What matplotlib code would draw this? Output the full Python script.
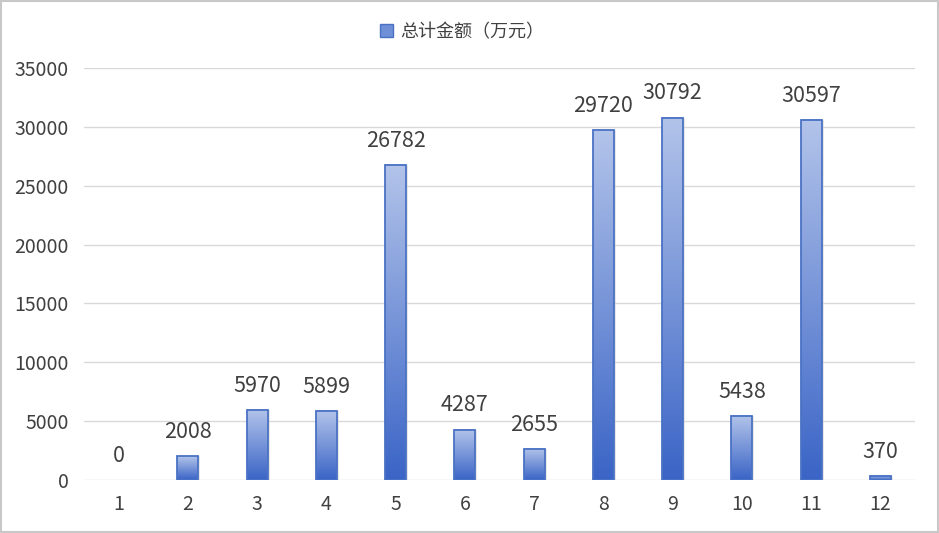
import numpy as np
import matplotlib
matplotlib.use("Agg")
import matplotlib.pyplot as plt
from matplotlib.patches import Rectangle
from matplotlib.colors import LinearSegmentedColormap

plt.rcParams['font.family'] = ['Noto Sans CJK SC', 'DejaVu Sans']

months = ['1', '2', '3', '4', '5', '6', '7', '8', '9', '10', '11', '12']
totals = [0, 2008, 5970, 5899, 26782, 4287, 2655, 29720, 30792, 5438, 30597, 370]
series_name = '总计金额（万元）'

fig = plt.figure(figsize=(9.39, 5.33), dpi=100)
ax = fig.add_axes([84 / 939, 1 - 480 / 533, (915 - 84) / 939, (480 - 68) / 533])

cmap = LinearSegmentedColormap.from_list('bar', ['#3a64c6', '#b3c4ea'])
grad = np.linspace(0, 1, 256).reshape(-1, 1)
w = 0.3
x = np.arange(len(months))
for xi, v in zip(x, totals):
    if v > 0:
        # faint shadow
        ax.add_patch(Rectangle((xi - w / 2 + 0.03, 0), w, v, fc='#d0d0d0', ec='none',
                               alpha=0.5, zorder=1.5))
        ax.imshow(grad, cmap=cmap, aspect='auto', origin='lower',
                  extent=(xi - w / 2, xi + w / 2, 0, v), zorder=2)
        ax.add_patch(Rectangle((xi - w / 2, 0), w, v, fill=False, ec='#4a72c4', lw=1.3, zorder=3))
    ax.annotate(str(v), (xi, v), xytext=(0, 13), textcoords='offset points',
                ha='center', va='baseline', fontsize=15.5, color='#404040')

ax.set_xlim(-0.5, len(months) - 0.5)
ax.set_ylim(0, 35000)
ax.set_yticks(range(0, 35001, 5000))
ax.set_xticks(x)
ax.set_xticklabels(months)
ax.tick_params(length=0, labelsize=14, colors='#404040')
ax.tick_params(axis='x', pad=10)
ax.tick_params(axis='y', pad=11)
ax.grid(axis='y', color='#d9d9d9', lw=1, zorder=0)
ax.set_axisbelow(True)
for s in ax.spines.values():
    s.set_visible(False)

leg_handle = Rectangle((0, 0), 1, 1, fc='#6f8fd6', ec='#4a72c4')
fig.legend([leg_handle], [series_name], loc='center', bbox_to_anchor=(462 / 939, 1 - 32 / 533),
           frameon=False, fontsize=13, handlelength=0.7, handleheight=0.7, handletextpad=0.4,
           labelcolor='#404040')

fig.patches.append(Rectangle((0.001, 0.001), 0.998, 0.998, transform=fig.transFigure,
                             fill=False, ec='#c8c8c8', lw=1.5))
fig.savefig('out.png', dpi=100)
